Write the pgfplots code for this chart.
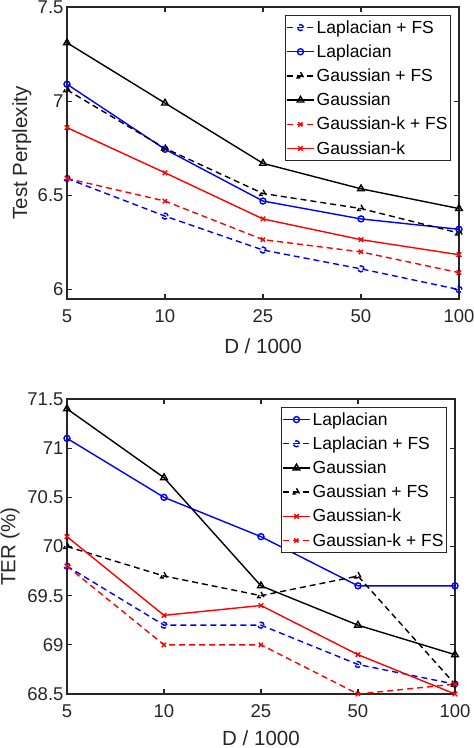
\documentclass[border=0pt]{standalone}
\usepackage{fontspec}
\setmainfont{Liberation Sans}
\usepackage{pgfplots}
\pgfplotsset{compat=1.18}
\definecolor{axgray}{rgb}{0.15,0.15,0.15}

\pgfplotsset{
  matlab/.style={
    scale only axis,
    xmin=0, xmax=4,
    xtick={0,1,2,3,4}, xticklabels={5,10,25,50,100},
    tick align=inside, tick pos=both, major tick length=5pt,
    axis line style={axgray, line width=1.3pt},
    every tick/.style={axgray, line width=1.3pt},
    tick label style={font=\fontsize{18.5}{20}\selectfont, text=axgray},
    xticklabel style={yshift=-7pt},
    label style={font=\fontsize{20.5}{22}\selectfont, text=axgray},
    /pgf/number format/assume math mode=true,
    xlabel={D / 1000},
    xlabel style={at={(axis description cs:0.5,0)}, anchor=center, yshift=-47pt, inner sep=0pt},
    legend cell align=left,
    legend style={at={(1,1)}, anchor=north east, xshift=-8pt, yshift=-8pt,
      font=\fontsize{17.5}{19}\selectfont, draw=axgray, line width=1pt,
      fill=white, row sep=6pt, inner xsep=1pt, inner ysep=3pt},
    legend image code/.code={\draw[mark repeat=2, mark phase=2]
      plot coordinates {(0pt,0pt)(13.5pt,0pt)(27pt,0pt)};},
    every axis plot/.append style={line width=1.4pt},
    every mark/.append style={solid},
  },
  dsh/.style={dash pattern=on 6pt off 4pt},
  mo/.style={mark=o, mark size=3pt},
  mt/.style={mark=triangle, mark size=3.8pt},
  mx/.style={mark=x, mark size=3.2pt},
}

\begin{document}
\begin{tikzpicture}
\useasboundingbox (0,0) rectangle (474pt,748pt);

% top: test perplexity
\begin{axis}[matlab, at={(67pt,449pt)}, anchor=south west,
  width=392pt, height=292pt,
  ymin=5.95, ymax=7.5, ytick={6,6.5,7,7.5},
  ylabel={Test Perplexity},
  ylabel style={at={(axis description cs:-0.115,0.5)}, anchor=center}]
\addplot[blue, dsh, mo] coordinates {(0,6.59)(1,6.39)(2,6.21)(3,6.11)(4,6.00)};
\addlegendentry{Laplacian + FS}
\addplot[blue, mo] coordinates {(0,7.09)(1,6.745)(2,6.47)(3,6.375)(4,6.32)};
\addlegendentry{Laplacian}
\addplot[black, dsh, mt] coordinates {(0,7.06)(1,6.75)(2,6.51)(3,6.43)(4,6.30)};
\addlegendentry{Gaussian + FS}
\addplot[black, mt] coordinates {(0,7.31)(1,6.99)(2,6.67)(3,6.535)(4,6.43)};
\addlegendentry{Gaussian}
\addplot[red, dsh, mx] coordinates {(0,6.59)(1,6.47)(2,6.265)(3,6.20)(4,6.09)};
\addlegendentry{Gaussian-k + FS}
\addplot[red, mx] coordinates {(0,6.86)(1,6.62)(2,6.375)(3,6.265)(4,6.185)};
\addlegendentry{Gaussian-k}
\end{axis}

% bottom: TER
\begin{axis}[matlab, at={(67pt,54pt)}, anchor=south west,
  width=388pt, height=295pt,
  ymin=68.5, ymax=71.5, ytick={68.5,69,69.5,70,70.5,71,71.5},
  ylabel={TER (\%)},
  ylabel style={at={(axis description cs:-0.147,0.5)}, anchor=center},
  xlabel style={yshift=3pt}]
\addplot[blue, mo] coordinates {(0,71.1)(1,70.5)(2,70.1)(3,69.6)(4,69.6)};
\addlegendentry{Laplacian}
\addplot[blue, dsh, mo] coordinates {(0,69.8)(1,69.2)(2,69.2)(3,68.8)(4,68.6)};
\addlegendentry{Laplacian + FS}
\addplot[black, mt] coordinates {(0,71.4)(1,70.7)(2,69.6)(3,69.2)(4,68.9)};
\addlegendentry{Gaussian}
\addplot[black, dsh, mt] coordinates {(0,70.0)(1,69.7)(2,69.5)(3,69.7)(4,68.6)};
\addlegendentry{Gaussian + FS}
\addplot[red, mx] coordinates {(0,70.1)(1,69.3)(2,69.4)(3,68.9)(4,68.5)};
\addlegendentry{Gaussian-k}
\addplot[red, dsh, mx] coordinates {(0,69.8)(1,69.0)(2,69.0)(3,68.5)(4,68.6)};
\addlegendentry{Gaussian-k + FS}
\end{axis}
\end{tikzpicture}
\end{document}
